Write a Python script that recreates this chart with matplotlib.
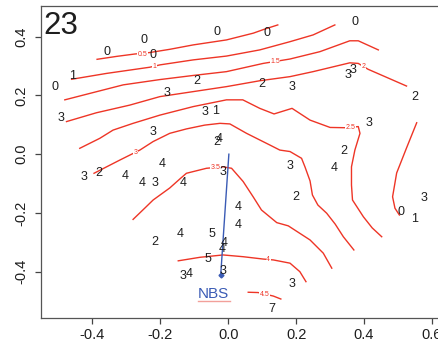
import matplotlib.pyplot as plt

plt.rcParams['font.family'] = ['Liberation Sans', 'DejaVu Sans']

RED = '#ee3526'
BLUE = '#3a5bb5'
INK = '#1e1e1e'

# values written at the sample points
pt_x = [-0.247, -0.356, -0.221, -0.032, 0.115, 0.373, -0.457, -0.510, -0.091, -0.181,
        0.099, 0.187, 0.353, 0.366, 0.550, -0.493, -0.069, -0.036, -0.221, 0.414,
        -0.027, -0.033, 0.339, -0.015, 0.182, 0.311, -0.195, -0.425, -0.380, -0.304,
        -0.252, -0.216, -0.133, 0.199, 0.577, 0.509, 0.550, 0.029, 0.029, -0.142,
        -0.048, -0.216, -0.013, -0.019, -0.060, -0.016, -0.133, -0.116, 0.188, 0.129]
pt_y = [0.389, 0.349, 0.338, 0.417, 0.412, 0.451, 0.267, 0.230, 0.249, 0.209,
        0.238, 0.230, 0.270, 0.287, 0.194, 0.122, 0.144, 0.147, 0.075, 0.105,
        0.053, 0.043, 0.012, -0.060, -0.040, -0.048, -0.034, -0.077, -0.065, -0.074,
        -0.099, -0.099, -0.099, -0.145, -0.150, -0.197, -0.221, -0.180, -0.241, -0.272,
        -0.272, -0.299, -0.302, -0.323, -0.357, -0.398, -0.415, -0.408, -0.442, -0.527]
pt_lab = ['0', '0', '0', '0', '0', '0', '1', '0', '2', '3',
          '2', '3', '3', '3', '2', '3', '3', '1', '3', '3',
          '4', '2', '2', '3', '3', '4', '4', '3', '2', '4',
          '4', '3', '4', '2', '3', '0', '1', '4', '4', '4',
          '5', '2', '4', '4', '5', '3', '3', '4', '3', '7']

# contour lines
c05_x = [-0.386, -0.328, -0.275, -0.231, -0.172, -0.103, -0.005, 0.074, 0.108, 0.146]
c05_y = [0.323, 0.333, 0.341, 0.346, 0.357, 0.372, 0.389, 0.412, 0.426, 0.440]

c10_x = [-0.461, -0.358, -0.231, -0.201, -0.103, -0.005, 0.093, 0.182, 0.250, 0.314]
c10_y = [0.255, 0.275, 0.296, 0.304, 0.321, 0.334, 0.355, 0.383, 0.406, 0.440]

c15_x = [-0.481, -0.407, -0.309, -0.201, -0.103, -0.005, 0.103, 0.182, 0.270, 0.358, 0.383, 0.442]
c15_y = [0.185, 0.207, 0.236, 0.254, 0.268, 0.281, 0.309, 0.324, 0.349, 0.386, 0.386, 0.355]

c20_x = [-0.476, -0.388, -0.290, -0.201, -0.103, -0.005, 0.093, 0.182, 0.250, 0.358, 0.383,
         0.412, 0.525]
c20_y = [0.111, 0.141, 0.167, 0.196, 0.213, 0.230, 0.250, 0.264, 0.281, 0.311, 0.309,
         0.289, 0.232]

c25_x = [-0.437, -0.378, -0.339, -0.280, -0.201, -0.103, -0.005, 0.043, 0.093, 0.135,
         0.188, 0.241, 0.300, 0.349, 0.383, 0.388, 0.373, 0.363, 0.363, 0.366, 0.398,
         0.424, 0.452]
c25_y = [0.020, 0.054, 0.082, 0.105, 0.133, 0.162, 0.185, 0.185, 0.156, 0.137,
         0.156, 0.116, 0.091, 0.090, 0.094, 0.071, 0.014, -0.043, -0.105, -0.156, -0.213,
         -0.251, -0.281]

c30_x = [-0.395, -0.319, -0.260, -0.221, -0.172, -0.123, -0.069, -0.024, 0.005, 0.054,
         0.123, 0.152, 0.182, 0.216, 0.226, 0.241, 0.248, 0.264, 0.290, 0.315, 0.339, 0.370]
c30_y = [-0.065, -0.020, 0.014, 0.043, 0.071, 0.086, 0.099, 0.105, 0.103, 0.071,
         0.031, 0.014, 0.009, -0.014, -0.043, -0.091, -0.139, -0.173, -0.201, -0.238,
         -0.281, -0.326]

c35_x = [-0.280, -0.245, -0.221, -0.172, -0.142, -0.123, -0.064, -0.015, 0.010, 0.044,
         0.074, 0.098, 0.143, 0.177, 0.241, 0.280, 0.305]
c35_y = [-0.222, -0.183, -0.156, -0.115, -0.084, -0.065, -0.048, -0.043, -0.048, -0.093,
         -0.146, -0.190, -0.233, -0.244, -0.292, -0.337, -0.388]

c40_x = [-0.147, -0.083, -0.015, 0.044, 0.103, 0.133, 0.182, 0.211, 0.229]
c40_y = [-0.363, -0.351, -0.343, -0.349, -0.357, -0.360, -0.371, -0.400, -0.434]

c45_x = [0.059, 0.088, 0.133, 0.155]
c45_y = [-0.470, -0.471, -0.483, -0.493]

ce_x = [0.555, 0.525, 0.496, 0.484, 0.491, 0.504]
ce_y = [0.107, 0.021, -0.064, -0.145, -0.184, -0.207]

clab_x = [-0.252, -0.216, 0.138, 0.398, 0.361, -0.272, -0.036, 0.118, 0.108]
clab_y = [0.341, 0.300, 0.315, 0.298, 0.092, 0.005, -0.046, -0.357, -0.476]
clab_txt = ['0.5', '1', '1.5', '2', '2.5', '3', '3.5', '4', '4.5']

nbs_x = [0.002, -0.022]
nbs_y = [0.000, -0.411]

fig = plt.figure(figsize=(4.39, 3.48), dpi=100)
ax = fig.add_axes([0.0927, 0.0871, 0.930, 0.8957])

for xs, ys in [(c05_x, c05_y), (c10_x, c10_y), (c15_x, c15_y), (c20_x, c20_y),
               (c25_x, c25_y), (c30_x, c30_y), (c35_x, c35_y), (c40_x, c40_y),
               (c45_x, c45_y), (ce_x, ce_y)]:
    ax.plot(xs, ys, color=RED, lw=1.0, zorder=2)

# faint piece under the NBS label
ax.plot([-0.089, 0.005], [-0.499, -0.499], color='#f2a09a', lw=1.0, zorder=2)

for x, y, t in zip(clab_x, clab_y, clab_txt):
    ax.text(x, y, t, color=RED, fontsize=5, ha='center', va='center', zorder=3,
            bbox=dict(fc='white', ec='none', pad=0.4))

ax.plot(nbs_x, nbs_y, color=BLUE, lw=1.0, zorder=4)
ax.plot(nbs_x[-1:], nbs_y[-1:], marker='D', ms=2.5, color=BLUE, zorder=4)
ax.text(-0.089, -0.476, 'NBS', color=BLUE, fontsize=11, ha='left', va='center', zorder=5)

for x, y, t in zip(pt_x, pt_y, pt_lab):
    ax.text(x, y, t, color=INK, fontsize=9, ha='center', va='center', zorder=5)

ax.text(0.006, 0.985, '23', transform=ax.transAxes, fontsize=22.5, color=INK,
        ha='left', va='top')

ax.set_xlim(-0.552, 0.65)
ax.set_ylim(-0.5566, 0.5045)
ax.set_xticks([-0.4, -0.2, 0.0, 0.2, 0.4, 0.6])
ax.set_xticklabels(['-0.4', '-0.2', '0.0', '0.2', '0.4', '0.6'])
ax.set_yticks([-0.4, -0.2, 0.0, 0.2, 0.4])
ax.set_yticklabels(['-0.4', '-0.2', '0.0', '0.2', '0.4'], rotation=90, va='center')
ax.tick_params(axis='both', length=4, width=0.9, color='#444444', labelsize=10.5,
               labelcolor=INK)
ax.tick_params(axis='x', pad=3.5)
ax.tick_params(axis='y', pad=5)
for s in ax.spines.values():
    s.set_color('#555555')
    s.set_linewidth(0.9)

fig.savefig('out.png', dpi=100)
